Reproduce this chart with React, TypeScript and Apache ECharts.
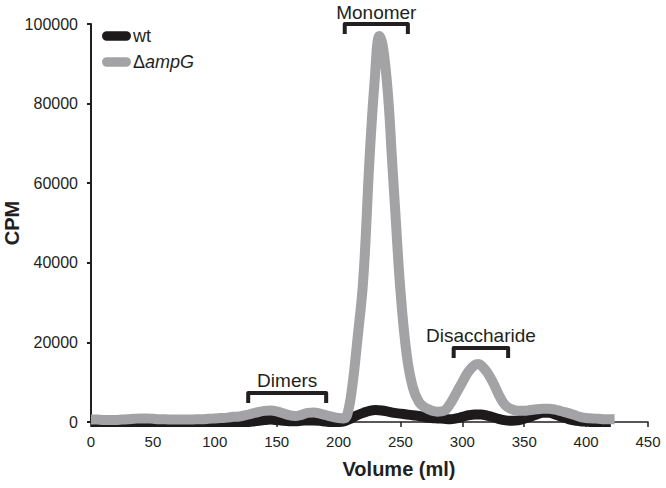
import React, { useEffect, useRef } from "react";
import * as echarts from "echarts";

// ---- data ----
const grayVolume = [0,5,10,15,20,25,30,35,40,45,50,55,60,65,70,75,80,85,90,95,100,105,110,115,120,125,130,135,140,145,150,155,160,165,170,175,180,185,190,195,200,204,207,211,215,220,225,229,233,236,240,243,246,250,255,260,265,270,275,280,285,290,295,300,305,310,313,316,320,325,330,335,340,345,350,355,360,365,370,375,380,385,390,395,400,405,410,415,423];
const grayCPM = [600,600,500,500,500,600,700,800,900,900,800,700,700,600,600,600,600,700,700,800,900,1000,1100,1300,1400,1700,2100,2500,2800,2900,2700,2200,1700,1500,1800,2300,2400,2100,1700,1300,1000,900,1800,8700,20000,36000,66000,85000,97000,94000,82000,67000,52000,33000,17000,8700,5000,3600,2900,2600,2800,4500,7200,10000,12700,14300,14600,14000,12500,9800,6500,4100,3200,2800,2800,3000,3200,3300,3300,3100,2700,2300,1800,1300,1000,900,800,700,700];

const wtVolume = [0,10,20,30,40,50,60,70,80,90,100,110,120,125,130,135,140,145,150,155,160,165,170,175,180,185,190,195,200,205,210,215,220,225,230,235,240,245,250,255,260,265,270,275,280,285,290,295,300,305,310,315,320,325,330,335,340,345,350,355,360,365,370,375,380,385,390,395,400,405,410,415,420];
const wtCPM = [0,0,0,0,0,0,0,0,0,0,0,0,0,0,100,300,500,600,500,300,200,200,300,400,400,300,100,0,0,200,900,1700,2300,2800,3000,2900,2600,2300,2100,1900,1700,1500,1200,1000,900,800,700,900,1300,1700,1900,1900,1600,1200,700,400,300,400,800,1300,1900,2300,2300,1900,1300,800,400,200,100,0,0,0,0];

const seriesNames = ["wt", "ΔampG"];

const xTicks = { min: 0, max: 450, interval: 50 };
const yTicks = { min: 0, max: 100000, interval: 20000 };

const bracketLabels = ["Dimers", "Monomer", "Disaccharide"];
const bracketStart = [127, 205, 293];
const bracketEnd = [190, 256, 337];
const bracketLevel = [7300, 100000, 18600];

const TEXT = "#231f20";
const FONT = "'Liberation Sans', Arial, Helvetica, sans-serif";

export default function App() {
  const ref = useRef<HTMLDivElement>(null);
  useEffect(() => {
    if (!ref.current) return;
    const chart = echarts.init(ref.current, null, { renderer: "svg" });
    const capsule = "path://M5,0 L25,0 A5,5 0 0 1 25,10 L5,10 A5,5 0 0 1 5,0 Z";
    chart.setOption({
      animation: false,
      backgroundColor: "#ffffff",
      textStyle: { fontFamily: FONT },
      grid: { left: 91, right: 18, top: 24, bottom: 66, containLabel: false, outerBoundsMode: "none" },
      legend: {
        orient: "vertical",
        left: 102,
        top: 27,
        padding: 0,
        itemWidth: 29,
        itemHeight: 10,
        itemGap: 8,
        icon: capsule,
        data: seriesNames,
        formatter: (name: string) => (name === "ΔampG" ? "{n|Δ}{i|ampG}" : name),
        textStyle: {
          color: TEXT,
          fontSize: 18,
          lineHeight: 17,
          fontFamily: FONT,
          padding: [0, 0, 0, -3],
          rich: {
            n: { fontSize: 18, color: TEXT, fontFamily: FONT },
            i: { fontSize: 18, color: TEXT, fontStyle: "italic", fontFamily: FONT },
          },
        },
      },
      xAxis: {
        type: "value",
        min: xTicks.min,
        max: xTicks.max,
        interval: xTicks.interval,
        name: "Volume (ml)",
        nameLocation: "middle",
        nameGap: 37,
        nameMoveOverlap: false,
        nameTextStyle: { color: TEXT, fontSize: 20, fontWeight: "bold", fontFamily: FONT, padding: [0, 0, 0, 59] },
        axisLine: { show: true, lineStyle: { color: TEXT, width: 1.5 } },
        axisTick: { show: true, length: 5, lineStyle: { color: TEXT, width: 1.5 } },
        axisLabel: { color: TEXT, fontSize: 15, margin: 12, fontFamily: FONT, formatter: (v: number) => String(v) },
        splitLine: { show: false },
      },
      yAxis: {
        type: "value",
        min: yTicks.min,
        max: yTicks.max,
        interval: yTicks.interval,
        name: "CPM",
        nameLocation: "middle",
        nameGap: 69,
        nameRotate: 90,
        nameMoveOverlap: false,
        nameTextStyle: { color: TEXT, fontSize: 20, fontWeight: "bold", fontFamily: FONT },
        axisLine: { show: true, lineStyle: { color: TEXT, width: 2 } },
        axisTick: { show: true, length: 4, lineStyle: { color: TEXT, width: 2 } },
        axisLabel: { color: TEXT, fontSize: 16, margin: 13, fontFamily: FONT, formatter: (v: number) => String(v) },
        splitLine: { show: false },
      },
      series: [
        {
          name: seriesNames[0],
          type: "line",
          data: wtVolume.map((v, i) => [v, wtCPM[i]]),
          smooth: 0.4,
          showSymbol: false,
          symbol: "none",
          color: "#1c1a1a",
          itemStyle: { color: "#1c1a1a" },
          lineStyle: { color: "#1c1a1a", width: 10 },
          z: 2,
        },
        {
          name: seriesNames[1],
          type: "line",
          data: grayVolume.map((v, i) => [v, grayCPM[i]]),
          smooth: 0.4,
          showSymbol: false,
          symbol: "none",
          color: "#a3a3a5",
          itemStyle: { color: "#a3a3a5" },
          lineStyle: { color: "#a3a3a5", width: 10 },
          z: 3,
        },
        {
          type: "custom",
          clip: false,
          z: 5,
          silent: true,
          encode: { x: [0, 1], y: 2 },
          data: bracketLabels.map((_, i) => [bracketStart[i], bracketEnd[i], bracketLevel[i]]),
          renderItem: (params: any, api: any) => {
            const i = params.dataIndex;
            const p0 = api.coord([api.value(0), api.value(2)]);
            const p1 = api.coord([api.value(1), api.value(2)]);
            const drop = 10;
            return {
              type: "group",
              children: [
                {
                  type: "polyline",
                  shape: {
                    points: [
                      [p0[0], p0[1] + drop],
                      [p0[0], p0[1]],
                      [p1[0], p1[1]],
                      [p1[0], p1[1] + drop],
                    ],
                  },
                  style: { stroke: TEXT, lineWidth: 4, fill: "none", lineJoin: "round" },
                },
                {
                  type: "text",
                  x: (p0[0] + p1[0]) / 2,
                  y: p0[1] - 12,
                  style: {
                    text: bracketLabels[i],
                    fill: TEXT,
                    font: `19px ${FONT}`,
                    align: "center",
                    verticalAlign: "middle",
                  },
                },
              ],
            };
          },
        },
      ],
    });
    return () => chart.dispose();
  }, []);
  return (
    <div
      ref={ref}
      style={{ position: "fixed", left: 0, top: 0, width: 666, height: 488, background: "#fff" }}
    />
  );
}
